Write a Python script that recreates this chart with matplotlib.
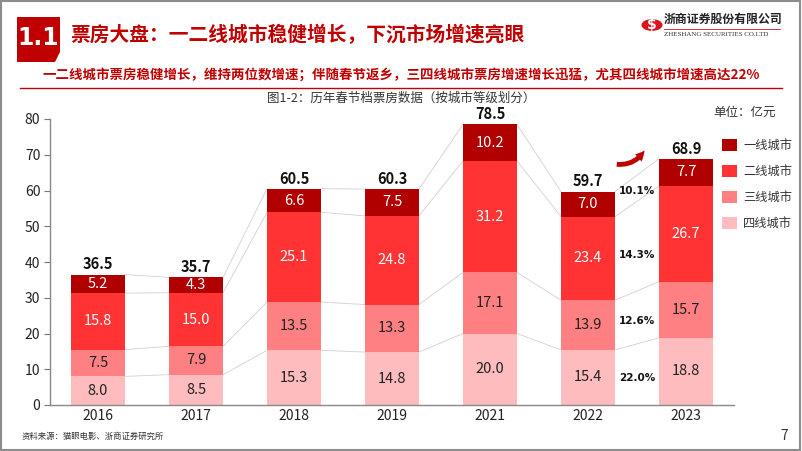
import matplotlib.pyplot as plt
import numpy as np
from matplotlib.patches import Polygon, Rectangle, Circle, FancyArrowPatch
from matplotlib.lines import Line2D

plt.rcParams['font.family'] = ['Noto Sans CJK SC', 'DejaVu Sans']

# Data
years = ['2016', '2017', '2018', '2019', '2021', '2022', '2023']
tier1 = [5.2, 4.3, 6.6, 7.5, 10.2, 7.0, 7.7]
tier2 = [15.8, 15.0, 25.1, 24.8, 31.2, 23.4, 26.7]
tier3 = [7.5, 7.9, 13.5, 13.3, 17.1, 13.9, 15.7]
tier4 = [8.0, 8.5, 15.3, 14.8, 20.0, 15.4, 18.8]
totals = [36.5, 35.7, 60.5, 60.3, 78.5, 59.7, 68.9]
tier_names = ['一线城市', '二线城市', '三线城市', '四线城市']
growth_2023 = ['10.1%', '14.3%', '12.6%', '22.0%']  # tier1 .. tier4

colors = ['#B00000', '#FF3333', '#FF8082', '#FFBCBE']
text_colors = ['white', 'white', '#222222', '#222222']
DARK_RED = '#C00000'

W, H = 802, 451
fig = plt.figure(figsize=(W / 100, H / 100), dpi=100)
fig.patch.set_facecolor('white')


def fx(px):
    return px / W


def fy(py):
    return 1 - py / H


# Slide border
fig.patches.append(Rectangle((0.001, 0.002), 0.997, 0.995, transform=fig.transFigure,
                             fill=False, edgecolor='#8c8c8c', linewidth=1.5))

# Header badge "1.1"
badge = Polygon([(fx(17), fy(17)), (fx(60), fy(17)), (fx(60), fy(52)),
                 (fx(55), fy(62)), (fx(17), fy(62))],
                closed=True, transform=fig.transFigure, facecolor=DARK_RED, edgecolor='none')
fig.patches.append(badge)
fig.text(fx(38.5), fy(38), '1.1', color='white', fontsize=17, fontweight='bold',
         ha='center', va='center', family=['DejaVu Sans'])
fig.text(fx(70), fy(35), '票房大盘：一二线城市稳健增长，下沉市场增速亮眼', color=DARK_RED,
         fontsize=14.2, fontweight='bold', ha='left', va='center')

# Logo
fig.patches.append(Circle((fx(652), fy(25)), 10.5 / W, transform=fig.transFigure,
                          facecolor='#D9141C', edgecolor='none'))
fig.text(fx(652), fy(25), '$', color='white', fontsize=10, fontweight='bold',
         ha='center', va='center', family=['DejaVu Sans'])
fig.text(fx(664), fy(19), '浙商证券股份有限公司', color='#222222', fontsize=8.6,
         fontweight='bold', ha='left', va='center')
fig.add_artist(Line2D([fx(664), fx(780)], [fy(29), fy(29)], transform=fig.transFigure,
                      color='#D9141C', linewidth=0.6))
fig.text(fx(664), fy(34), 'ZHESHANG SECURITIES CO.LTD', color='#333333', fontsize=5,
         ha='left', va='center', family=['Liberation Serif'])

# Subtitle and rule
fig.text(fx(401), fy(75), '一二线城市票房稳健增长，维持两位数增速；伴随春节返乡，三四线城市票房增速增长迅猛，尤其四线城市增速高达22%',
         color=DARK_RED, fontsize=9.7, fontweight='bold', ha='center', va='center')
fig.add_artist(Line2D([fx(20), fx(782)], [fy(88), fy(88)], transform=fig.transFigure,
                      color=DARK_RED, linewidth=1.0))
fig.text(fx(401), fy(98), '图1-2：历年春节档票房数据（按城市等级划分）', color='#333333',
         fontsize=9, ha='center', va='center')
fig.text(fx(713), fy(112), '单位：亿元', color='#333333', fontsize=9, ha='left', va='center')

# Footer
fig.text(fx(22), fy(436), '资料来源：猫眼电影、浙商证券研究所', color='#333333', fontsize=6,
         ha='left', va='center')
fig.text(fx(788), fy(436), '7', color='#333333', fontsize=10, ha='right', va='center')

# Chart
ax = fig.add_axes([fx(50), fy(405), fx(734) - fx(50), fy(119) - fy(405)])
x = np.arange(len(years))
bw = 0.55
series = [tier4, tier3, tier2, tier1]
ser_colors = colors[::-1]
ser_text = text_colors[::-1]
bottom = np.zeros(len(years))
bounds = [bottom.copy()]
handles = {}
for vals, c, tc, name in zip(series, ser_colors, ser_text, tier_names[::-1]):
    vals = np.array(vals)
    b = ax.bar(x, vals, bw, bottom=bottom, color=c, edgecolor='none', zorder=2, label=name)
    handles[name] = b
    for xi, v, b0 in zip(x, vals, bottom):
        ax.text(xi, b0 + v / 2, f'{v:.1f}', ha='center', va='center', color=tc, fontsize=10.5)
    bottom = bottom + vals
    bounds.append(bottom.copy())

# Connector lines between adjacent bars
for lev in bounds[1:]:
    for i in range(len(years) - 1):
        ax.plot([x[i] + bw / 2, x[i + 1] - bw / 2], [lev[i], lev[i + 1]],
                color='#d0d0d0', linewidth=0.6, zorder=1)

for xi, t in zip(x, totals):
    ax.text(xi, t + 0.6, f'{t:.1f}', ha='center', va='bottom', fontsize=10.5,
            fontweight='bold', color='#111111')

# Growth labels between 2022 and 2023
tiers_bottom_up = [tier4, tier3, tier2, tier1]
for k, g in enumerate(growth_2023[::-1]):
    lo = bounds[k]
    vals = tiers_bottom_up[k]
    m = ((lo[5] + vals[5] / 2) + (lo[6] + vals[6] / 2)) / 2 - 0.9
    if k == 2:
        m -= 1.5
    ax.text((x[5] + x[6]) / 2, m, g, ha='center', va='center', fontsize=7.5,
            fontweight='bold', color='#111111', family=['DejaVu Sans'])

ax.set_xlim(-0.49, 6.49)
ax.set_ylim(0, 80)
ax.set_yticks(np.arange(0, 81, 10))
ax.set_xticks(x)
ax.set_xticklabels(years)
ax.tick_params(axis='y', length=4, width=0.8, color='#777777', labelsize=10, labelcolor='#222222', pad=3)
ax.tick_params(axis='x', length=0, labelsize=10, labelcolor='#222222', pad=3)
for s in ['top', 'right']:
    ax.spines[s].set_visible(False)
for s in ['left', 'bottom']:
    ax.spines[s].set_color('#888888')
    ax.spines[s].set_linewidth(1.0)
ax.set_facecolor('none')

leg = ax.legend([handles[n] for n in tier_names], tier_names, loc='upper left',
                bbox_to_anchor=(fx(722), fy(139)), bbox_transform=fig.transFigure,
                frameon=False, fontsize=8.8, handlelength=1.25, handleheight=1.15,
                handletextpad=0.5, labelspacing=1.05, labelcolor='#333333',
                borderpad=0, borderaxespad=0)

# Curved arrow
arrow = FancyArrowPatch((fx(614), fy(164)), (fx(646), fy(148)), transform=fig.transFigure,
                        connectionstyle='arc3,rad=0.35',
                        arrowstyle='simple,head_width=7,head_length=7,tail_width=3.5',
                        color=DARK_RED, linewidth=0)
fig.patches.append(arrow)

fig.savefig('out.png', dpi=100)
